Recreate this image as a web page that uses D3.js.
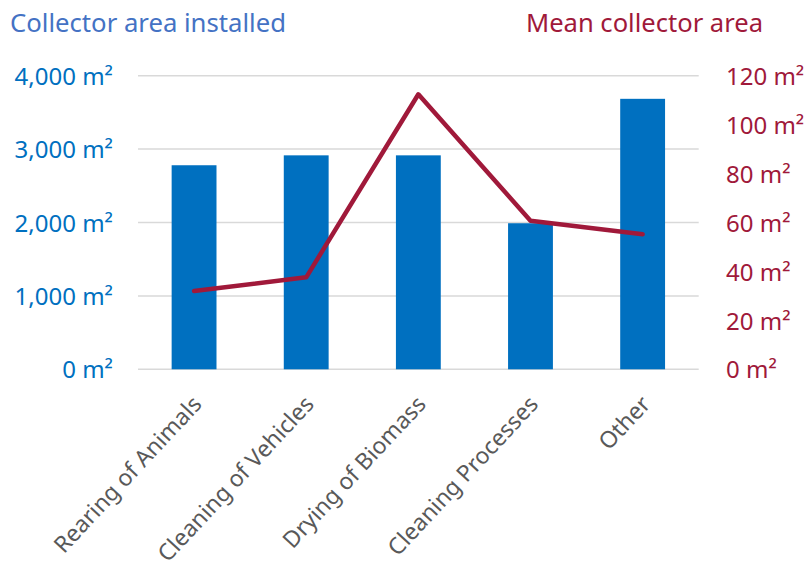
<!DOCTYPE html>
<meta charset="utf-8">
<style>
body { margin: 0; background: #fff; }
text { font-family: "Noto Sans", Carlito, Calibri, sans-serif; }
.grid line { stroke: #d9d9d9; stroke-width: 1.5px; }
.left-axis text { fill: #0070c0; }
.right-axis text { fill: #a0193a; }
.x-axis text { fill: #595959; }
</style>
<body>
<script src="https://d3js.org/d3.v7.min.js"></script>
<script>
var width = 809,
    height = 570;

// chart data
let categories = ["Rearing of Animals", "Cleaning of Vehicles", "Drying of Biomass", "Cleaning Processes", "Other"]
let installed = [2780, 2915, 2915, 1990, 3685]   // collector area installed, m²
let meanArea = [32, 37.6, 112.4, 60.7, 55.2]     // mean collector area, m²
let leftTicks = [0, 1000, 2000, 3000, 4000]
let rightTicks = [0, 20, 40, 60, 80, 100, 120]

var blue = "#0070c0",
    red = "#a0193a";

var x = d3.scaleBand()
    .domain(categories)
    .range([138, 698.7])
    .paddingInner(0.6)
    .paddingOuter(0.3);

var yLeft = d3.scaleLinear()
    .domain([0, 4000])
    .range([369.3, 75.7]);

var yRight = d3.scaleLinear()
    .domain([0, 120])
    .range([369.3, 75.7]);

var fmt = d3.format(",");

var svg = d3.select("body").append("svg")
    .attr("width", width)
    .attr("height", height);

// gridlines
svg.append("g")
    .attr("class", "grid")
  .selectAll("line")
    .data(leftTicks)
  .enter().append("line")
    .attr("x1", 138)
    .attr("x2", 698.7)
    .attr("y1", function(d) { return yLeft(d); })
    .attr("y2", function(d) { return yLeft(d); });

// bars
svg.append("g")
  .selectAll("rect")
    .data(installed)
  .enter().append("rect")
    .attr("x", function(d, i) { return x(categories[i]); })
    .attr("y", function(d) { return yLeft(d); })
    .attr("width", x.bandwidth())
    .attr("height", function(d) { return yLeft(0) - yLeft(d); })
    .attr("fill", blue);

// line
var line = d3.line()
    .x(function(d, i) { return x(categories[i]) + x.bandwidth() / 2; })
    .y(function(d) { return yRight(d); });

svg.append("path")
    .datum(meanArea)
    .attr("d", line)
    .attr("fill", "none")
    .attr("stroke", red)
    .attr("stroke-width", 4.5)
    .attr("stroke-linejoin", "round")
    .attr("stroke-linecap", "round");

// left axis
var leftAxis = svg.append("g")
    .attr("class", "left-axis")
    .attr("transform", "translate(113,0)")
    .call(d3.axisLeft(yLeft).tickValues(leftTicks).tickSize(0).tickPadding(0)
      .tickFormat(function(d) { return fmt(d) + " m²"; }));
leftAxis.select(".domain").remove();
leftAxis.selectAll("text").style("font-size", "24px").attr("dy", "0.36em");

// right axis
var rightAxis = svg.append("g")
    .attr("class", "right-axis")
    .attr("transform", "translate(726,0)")
    .call(d3.axisRight(yRight).tickValues(rightTicks).tickSize(0).tickPadding(0)
      .tickFormat(function(d) { return d + " m²"; }));
rightAxis.select(".domain").remove();
rightAxis.selectAll("text").style("font-size", "24px").attr("dy", "0.36em");

// category axis
var xAxis = svg.append("g")
    .attr("class", "x-axis")
    .attr("transform", "translate(0,369.3)")
    .call(d3.axisBottom(x).tickSize(0).tickPadding(0));
xAxis.select(".domain").remove();
xAxis.selectAll("text")
    .style("font-size", "23px")
    .attr("text-anchor", "end")
    .attr("dy", null)
    .attr("y", 0)
    .attr("transform", "translate(9,36) rotate(-47)");

// titles
svg.append("text")
    .attr("x", 10)
    .attr("y", 32)
    .attr("fill", "#4472c4")
    .attr("textLength", 276)
    .attr("lengthAdjust", "spacingAndGlyphs")
    .style("font-size", "25px")
    .text("Collector area installed");

svg.append("text")
    .attr("x", 526)
    .attr("y", 32)
    .attr("fill", red)
    .attr("textLength", 237)
    .attr("lengthAdjust", "spacingAndGlyphs")
    .style("font-size", "25px")
    .text("Mean collector area");
</script>
